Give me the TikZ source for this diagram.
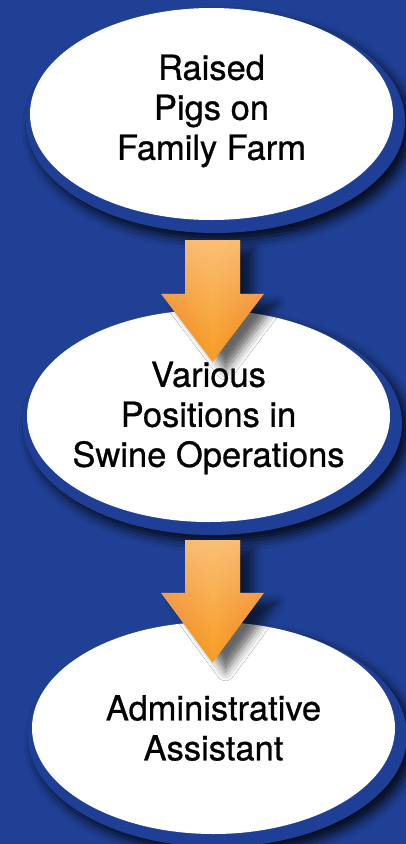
\documentclass[tikz,border=0pt]{standalone}
\usepackage{fontspec}
\setmainfont{TeX Gyre Heros}[FakeBold=0.7]
\usetikzlibrary{calc,shapes.geometric,shadows.blur,fadings}

\definecolor{bgblue}{RGB}{31,64,148}
\definecolor{rimblue}{RGB}{30,63,149}
\definecolor{orDark}{RGB}{238,120,22}
\definecolor{orMid}{RGB}{248,158,34}
\definecolor{orLight}{RGB}{251,200,138}

\tikzfading[name=glowdown, top color=transparent!0, middle color=transparent!85,
  bottom color=transparent!100]

\tikzset{
  oval/.style={ellipse, fill=white, inner sep=0pt, minimum width=363pt, minimum height=212pt},
  ovaltext/.style={align=center, font=\fontsize{34.5}{40}\selectfont},
  rim/.style={fill=rimblue, blur shadow={shadow xshift=6pt, shadow yshift=-7pt,
      shadow blur radius=10pt, shadow opacity=85}},
  flow/.style={left color=orDark, right color=orDark, middle color=orMid,
    blur shadow={shadow xshift=13pt, shadow yshift=-9pt,
      shadow blur radius=9pt, shadow opacity=60},
    postaction={fill=orLight, fill opacity=0.8, path fading=glowdown}},
}

\begin{document}
\begin{tikzpicture}[x=1pt, y=-1pt]
  \useasboundingbox (0,0) rectangle (406,844);
  \fill[bgblue] (0,0) rectangle (406,844);
  %% Ovals (rim first, then the white face)
  \coordinate (c1) at (211.5,114);
  \coordinate (c2) at (208.5,416);
  \coordinate (c3) at (213.5,728);
  %% Oval 1
  \fill[rim] ($(c1)+(4,7.5)$) ellipse [x radius=189.5, y radius=111.5];
  \node[oval] (raised) at (c1) {};
  \node[ovaltext] (raised-t) at ($(raised)+(0,-3)$) {Raised\\Pigs on\\Family Farm};
  %% Oval 2
  \fill[rim] ($(c2)+(4,7.5)$) ellipse [x radius=189.5, y radius=111.5];
  \node[oval] (various) at (c2) {};
  \node[ovaltext] (various-t) at ($(various)+(0,2)$) {Various\\Positions in\\Swine Operations};
  %% Oval 3
  \fill[rim] ($(c3)+(4,7.5)$) ellipse [x radius=189.5, y radius=111.5];
  \node[oval] (admin) at (c3) {};
  \node[ovaltext] (admin-t) at (admin) {Administrative\\Assistant};
  %% Arrow 1 -> 2
  \shade[flow] let \p1=($(raised.south)+(1,20)$), \p2=($(various.north)+(0,52)$) in
    (\x1-27.5pt,\y1) -- (\x1+27.5pt,\y1) -- (\x1+27.5pt,\y2+68pt) -- (\x1+51.5pt,\y2+68pt)
    -- (\x1,\y2) -- (\x1-51.5pt,\y2+68pt) -- (\x1-27.5pt,\y2+68pt) -- cycle;
  %% Arrow 2 -> 3
  \shade[flow] let \p1=($(various.south)+(4,18)$), \p2=($(admin.north)+(0,41)$) in
    (\x1-27.5pt,\y1) -- (\x1+27.5pt,\y1) -- (\x1+27.5pt,\y2+70pt) -- (\x1+51.5pt,\y2+70pt)
    -- (\x1,\y2) -- (\x1-51.5pt,\y2+70pt) -- (\x1-27.5pt,\y2+70pt) -- cycle;
\end{tikzpicture}
\end{document}
